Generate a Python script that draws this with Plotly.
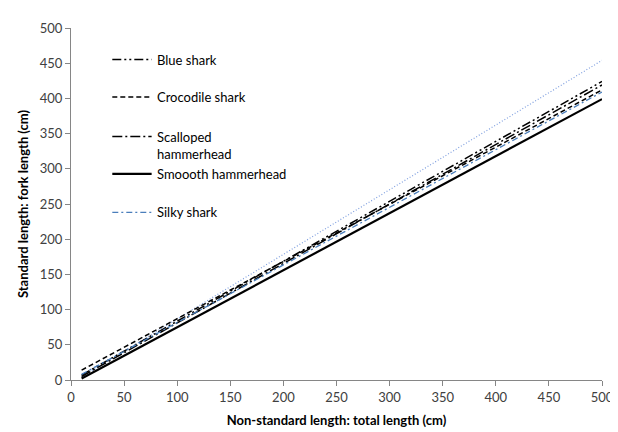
import plotly.graph_objects as go

# ---- data ----
total_length = [10, 500]
blue_shark = [7, 424]
crocodile_shark = [14, 412]
scalloped_hammerhead = [5, 419]
smooth_hammerhead = [2, 399]
silky_shark = [8, 409]
reference_line = [4, 454]

x_ticks = [0, 50, 100, 150, 200, 250, 300, 350, 400, 450, 500]
y_ticks = [0, 50, 100, 150, 200, 250, 300, 350, 400, 450, 500]

FONT = "Lato"

series = [
    ("Blue shark", blue_shark, "#000000", 1.5, "9px,3px,2px,3px,2px,3px"),
    ("Crocodile shark", crocodile_shark, "#000000", 1.5, "5px,3px"),
    ("Scalloped<br>hammerhead", scalloped_hammerhead, "#000000", 1.5, "10px,3px,2px,3px"),
    ("Smoooth hammerhead", smooth_hammerhead, "#000000", 2.2, "solid"),
    ("Silky shark", silky_shark, "#4A7EBB", 1.3, "6px,3px,2px,3px"),
]

fig = go.Figure()

fig.add_trace(go.Scatter(
    x=total_length, y=reference_line, mode="lines", showlegend=False,
    line=dict(color="#7F9FDF", width=1.2, dash="1px,2px"), hoverinfo="skip"))

for name, ys, col, w, dash in series:
    fig.add_trace(go.Scatter(
        x=total_length, y=ys, mode="lines", name=name, showlegend=False,
        line=dict(color=col, width=w, dash=dash)))

# manual legend (Excel-like placement and spacing)
leg_y = [47, 85, 125, 163, 202]  # pixel rows of each legend entry
H = 432
plot_top, plot_bot = 15, 372
for (name, ys, col, w, dash), py in zip(series, leg_y):
    yp = 1 - (py - plot_top) / (plot_bot - plot_top)
    fig.add_shape(type="line", xref="paper", yref="paper",
                  x0=(105 - 63) / 540, x1=(145 - 63) / 540, y0=yp, y1=yp,
                  line=dict(color=col, width=w, dash=dash))
    fig.add_annotation(xref="paper", yref="paper", x=(148 - 63) / 540, y=yp,
                       text=name, showarrow=False, xanchor="left",
                       yanchor="top" if "<br>" in name else "middle",
                       yshift=9 if "<br>" in name else 0,
                       align="left",
                       font=dict(family=FONT, size=13, color="#000000"))

axis_common = dict(
    showgrid=False, zeroline=False, showline=True, linecolor="#868686", linewidth=1,
    ticks="outside", ticklen=5, tickcolor="#868686",
    tickfont=dict(family=FONT, size=13, color="#404040"),
)

fig.update_xaxes(range=[0, 500], tickvals=x_ticks, **axis_common,
                 title=dict(text="<b>Non-standard length: total length (cm)</b>",
                            font=dict(family=FONT, size=13, color="#000000"), standoff=12))
fig.update_yaxes(range=[0, 500], tickvals=y_ticks, **axis_common,
                 title=dict(text="<b>Standard length: fork length (cm)</b>",
                            font=dict(family=FONT, size=13, color="#000000"), standoff=8))

fig.update_layout(
    width=618, height=432,
    margin=dict(l=63, r=15, t=15, b=60),
    plot_bgcolor="white", paper_bgcolor="white",
    showlegend=False,
)

fig.write_html("out.html")
